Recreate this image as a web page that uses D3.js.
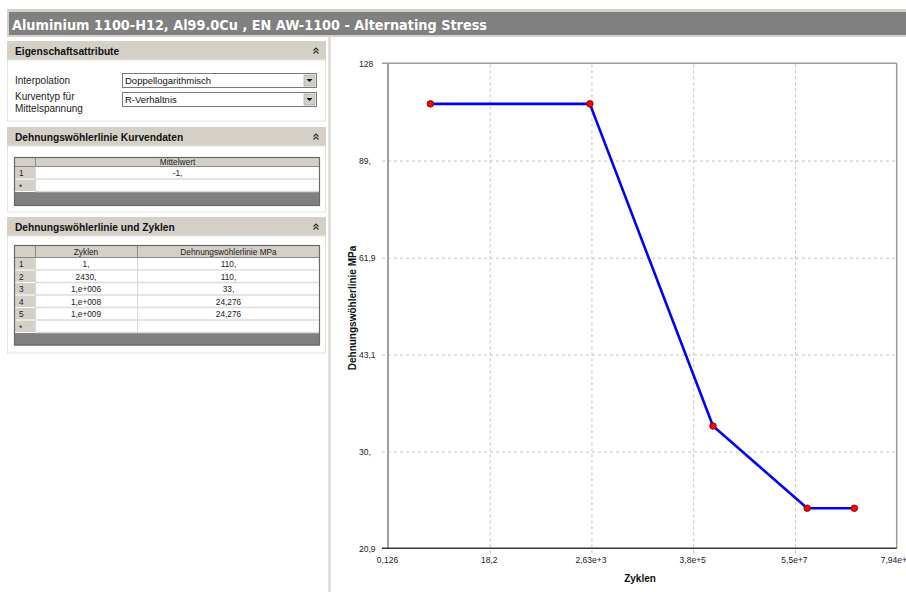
<!DOCTYPE html>
<html>
<head>
<meta charset="utf-8">
<script src="https://cdn.jsdelivr.net/npm/d3@7"></script>
<style>
  html, body { margin: 0; padding: 0; background: #ffffff; }
  svg { display: block; }
  text { font-family: "Liberation Sans", Arial, sans-serif; }
</style>
</head>
<body>
<svg id="view" width="906" height="592"></svg>
<script>
// ---- data ----
const titleText = "Aluminium 1100-H12, Al99.0Cu , EN AW-1100 - Alternating Stress";

const cycles = [1, 2430, 1e6, 1e8, 1e9];
const stress = [110, 110, 33, 24.276, 24.276];
const cycleLabels = ["1,", "2430,", "1,e+006", "1,e+008", "1,e+009"];
const stressLabels = ["110,", "110,", "33,", "24,276", "24,276"];

const meanValues = ["-1,"];

const xTicks = [0.126, 18.2, 2630, 3.8e5, 5.5e7, 7.94e9];
const xTickLabels = ["0,126", "18,2", "2,63e+3", "3,8e+5", "5,5e+7", "7,94e+9"];
const yTicks = [20.9, 30, 43.1, 61.9, 89, 128];
const yTickLabels = ["20,9", "30,", "43,1", "61,9", "89,", "128"];

const svg = d3.select("#view");
const BEIGE = "#d4d0c8";

// ---- title bar ----
svg.append("rect").attr("x", 7).attr("y", 9).attr("width", 899).attr("height", 28).attr("fill", BEIGE);
svg.append("rect").attr("x", 9).attr("y", 12).attr("width", 897).attr("height", 23).attr("fill", "#808080");
svg.append("text").attr("x", 12).attr("y", 29.5)
  .attr("fill", "#ffffff").attr("font-weight", "bold").attr("font-size", 13.5)
  .style("font-family", "'DejaVu Sans', Verdana, sans-serif")
  .attr("textLength", 475).attr("lengthAdjust", "spacingAndGlyphs")
  .text(titleText);

// ---- panel separator ----
svg.append("rect").attr("x", 328).attr("y", 37).attr("width", 3).attr("height", 555).attr("fill", "#e2dfd8");

// ---- left property panel ----
const left = svg.append("g");

function sectionHeader(y, label) {
  left.append("rect").attr("x", 7).attr("y", y).attr("width", 319).attr("height", 19).attr("fill", BEIGE);
  left.append("text").attr("x", 15).attr("y", y + 13.5).attr("font-size", 10.2).attr("font-weight", "bold")
    .attr("fill", "#111").text(label);
  const cx = 316, cy = y + 10;
  left.append("path")
    .attr("d", `M${cx - 2.5},${cy - 0.5} l2.5,-2.5 l2.5,2.5 M${cx - 2.5},${cy + 2.5} l2.5,-2.5 l2.5,2.5`)
    .attr("fill", "none").attr("stroke", "#333").attr("stroke-width", 1.2);
}
function sectionBody(y, h) {
  left.append("rect").attr("x", 7.5).attr("y", y).attr("width", 318).attr("height", h)
    .attr("fill", "#ffffff").attr("stroke", "#e6e3dc").attr("stroke-width", 1);
}

// Eigenschaftsattribute
sectionHeader(41, "Eigenschaftsattribute");
sectionBody(60, 61);

function dropdown(y, value) {
  const x0 = 122, w = 194, h = 14;
  left.append("rect").attr("x", x0 + 0.5).attr("y", y + 0.5).attr("width", w).attr("height", h)
    .attr("fill", "#ffffff").attr("stroke", "#7a7a7a");
  left.append("rect").attr("x", x0 + w - 12).attr("y", y + 2).attr("width", 11).attr("height", h - 3)
    .attr("fill", BEIGE).attr("stroke", "#9a9a9a").attr("stroke-width", 0.6);
  const ax = x0 + w - 6.5, ay = y + 6;
  left.append("path").attr("d", `M${ax - 3},${ay} L${ax + 3},${ay} L${ax},${ay + 3} Z`).attr("fill", "#000");
  left.append("text").attr("x", x0 + 3).attr("y", y + 11).attr("font-size", 9.5).attr("fill", "#111").text(value);
}
left.append("text").attr("x", 15).attr("y", 84).attr("font-size", 10).attr("fill", "#222").text("Interpolation");
left.append("text").attr("x", 15).attr("y", 100).attr("font-size", 10).attr("fill", "#222").text("Kurventyp für");
left.append("text").attr("x", 15).attr("y", 112).attr("font-size", 10).attr("fill", "#222").text("Mittelspannung");
dropdown(73, "Doppellogarithmisch");
dropdown(92, "R-Verhältnis");

// generic grid table
function drawTable(top, colEdges, headers, rows, rowH, headH, footH) {
  const x0 = colEdges[0], x1 = colEdges[colEdges.length - 1];
  const nRows = rows.length + 1; // plus the "*" new-row line
  const bodyTop = top + headH;
  const footTop = bodyTop + nRows * rowH;
  const g = left.append("g");
  // header row
  g.append("rect").attr("x", x0).attr("y", top).attr("width", x1 - x0).attr("height", headH).attr("fill", BEIGE);
  // body rows
  g.append("rect").attr("x", x0).attr("y", bodyTop).attr("width", x1 - x0).attr("height", nRows * rowH).attr("fill", "#fff");
  // row-number column
  g.append("rect").attr("x", x0).attr("y", bodyTop).attr("width", colEdges[1] - x0).attr("height", nRows * rowH).attr("fill", BEIGE);
  // footer
  g.append("rect").attr("x", x0).attr("y", footTop).attr("width", x1 - x0).attr("height", footH).attr("fill", "#808080");
  // row separators
  for (let i = 1; i <= nRows; i++) {
    const y = bodyTop + i * rowH;
    g.append("line").attr("x1", colEdges[1]).attr("x2", x1).attr("y1", y - 0.5).attr("y2", y - 0.5)
      .attr("stroke", "#dcdcdc").attr("stroke-width", 1.5);
    g.append("line").attr("x1", x0).attr("x2", colEdges[1]).attr("y1", y - 0.5).attr("y2", y - 0.5)
      .attr("stroke", "#ffffff").attr("stroke-width", 1);
  }
  // column separators
  colEdges.slice(1, -1).forEach(cx => {
    g.append("line").attr("x1", cx + 0.5).attr("x2", cx + 0.5).attr("y1", top).attr("y2", bodyTop)
      .attr("stroke", "#8a8a8a");
    g.append("line").attr("x1", cx + 0.5).attr("x2", cx + 0.5).attr("y1", bodyTop).attr("y2", footTop)
      .attr("stroke", "#d8d8d8");
  });
  g.append("line").attr("x1", x0).attr("x2", x1).attr("y1", bodyTop - 0.5).attr("y2", bodyTop - 0.5).attr("stroke", "#8a8a8a");
  // outer border
  g.append("rect").attr("x", x0 + 0.5).attr("y", top + 0.5).attr("width", x1 - x0 - 1).attr("height", footTop + footH - top - 1)
    .attr("fill", "none").attr("stroke", "#6a6a6a").attr("stroke-width", 1.2);
  // header texts
  headers.forEach((h, i) => {
    g.append("text").attr("x", (colEdges[i + 1] + colEdges[i + 2]) / 2).attr("y", top + headH / 2 + 3)
      .attr("text-anchor", "middle").attr("font-size", 8.3).attr("fill", "#222").text(h);
  });
  // body texts
  rows.forEach((r, ri) => {
    const cy = bodyTop + ri * rowH + rowH / 2 + 3;
    g.append("text").attr("x", x0 + 5).attr("y", cy).attr("font-size", 8.3).attr("fill", "#222").text(ri + 1);
    r.forEach((v, ci) => {
      g.append("text").attr("x", (colEdges[ci + 1] + colEdges[ci + 2]) / 2).attr("y", cy)
        .attr("text-anchor", "middle").attr("font-size", 8.3).attr("fill", "#222").text(v);
    });
  });
  g.append("text").attr("x", x0 + 5).attr("y", bodyTop + rows.length * rowH + rowH / 2 + 4)
    .attr("font-size", 8.3).attr("fill", "#222").text("*");
}

// Dehnungswöhlerlinie Kurvendaten
sectionHeader(127, "Dehnungswöhlerlinie Kurvendaten");
sectionBody(146, 66);
drawTable(157, [14, 35, 320], ["Mittelwert"], meanValues.map(v => [v]), 12.5, 10, 14);

// Dehnungswöhlerlinie und Zyklen
sectionHeader(217, "Dehnungswöhlerlinie und Zyklen");
sectionBody(236, 117);
drawTable(245, [14, 35, 137, 320], ["Zyklen", "Dehnungswöhlerlinie MPa"],
  cycles.map((c, i) => [cycleLabels[i], stressLabels[i]]), 12.5, 13, 12.5);

// ---- S-N chart ----
const plot = { left: 388, right: 896.7, top: 63.3, bottom: 548.3 };
const x = d3.scaleLog().domain([xTicks[0], xTicks[xTicks.length - 1]]).range([plot.left, plot.right]);
const y = d3.scaleLog().domain([yTicks[0], yTicks[yTicks.length - 1]]).range([plot.bottom, plot.top]);

const chart = svg.append("g");

// dashed grid
const gridX = d3.axisBottom(x).tickValues(xTicks.slice(1, -1)).tickSize(-(plot.bottom - plot.top) - 5).tickFormat("");
chart.append("g").attr("transform", `translate(0,${plot.bottom + 5})`).call(gridX)
  .call(g => g.select(".domain").remove())
  .call(g => g.selectAll("line").attr("stroke", "#c4c4c4").attr("stroke-dasharray", "3,3"));
const gridY = d3.axisLeft(y).tickValues(yTicks.slice(1, -1)).tickSize(-(plot.right - plot.left) - 6).tickFormat("");
chart.append("g").attr("transform", `translate(${plot.left - 6},0)`).call(gridY)
  .call(g => g.select(".domain").remove())
  .call(g => g.selectAll("line").attr("stroke", "#c4c4c4").attr("stroke-dasharray", "3,3"));

// frame
chart.append("line").attr("x1", plot.left - 6).attr("x2", plot.right).attr("y1", plot.top).attr("y2", plot.top)
  .attr("stroke", "#9a9a9a").attr("stroke-width", 1.5);
chart.append("line").attr("x1", plot.right).attr("x2", plot.right).attr("y1", plot.top).attr("y2", plot.bottom)
  .attr("stroke", "#9a9a9a").attr("stroke-width", 1.5);
chart.append("line").attr("x1", plot.left).attr("x2", plot.left).attr("y1", plot.top).attr("y2", plot.bottom)
  .attr("stroke", "#a0a0a0").attr("stroke-width", 2);
chart.append("line").attr("x1", plot.left - 6).attr("x2", plot.right).attr("y1", plot.bottom).attr("y2", plot.bottom)
  .attr("stroke", "#3a3a3a").attr("stroke-width", 1.5);

// tick labels
const yAxis = d3.axisLeft(y).tickValues(yTicks).tickSize(0).tickFormat((d, i) => yTickLabels[i]);
chart.append("g").attr("transform", `translate(359,0)`).call(yAxis)
  .call(g => g.select(".domain").remove())
  .call(g => g.selectAll("text").attr("text-anchor", "start").attr("x", 0)
    .attr("font-size", 8.5).style("font-family", "'Liberation Sans', Arial, sans-serif").attr("fill", "#222"));
const xAxis = d3.axisBottom(x).tickValues(xTicks).tickSize(0).tickFormat((d, i) => xTickLabels[i]);
chart.append("g").attr("transform", `translate(-1,${plot.bottom + 6})`).call(xAxis)
  .call(g => g.select(".domain").remove())
  .call(g => g.selectAll("text").attr("font-size", 8.5).style("font-family", "'Liberation Sans', Arial, sans-serif").attr("fill", "#222"));

// axis titles
chart.append("text").attr("x", 640).attr("y", 582).attr("text-anchor", "middle")
  .attr("font-size", 10).attr("font-weight", "bold").attr("fill", "#111").text("Zyklen");
chart.append("text").attr("transform", `translate(355.5,308) rotate(-90)`).attr("text-anchor", "middle")
  .attr("font-size", 10).attr("font-weight", "bold").attr("fill", "#111").text("Dehnungswöhlerlinie MPa");

// curve
const pts = cycles.map((c, i) => [c, stress[i]]);
chart.append("path").datum(pts)
  .attr("d", d3.line().x(d => x(d[0])).y(d => y(d[1])))
  .attr("fill", "none").attr("stroke", "#0000ff").attr("stroke-width", 2.6).attr("stroke-linejoin", "round");
chart.selectAll("circle.pt").data(pts).join("circle").attr("class", "pt")
  .attr("cx", d => x(d[0])).attr("cy", d => y(d[1])).attr("r", 3.3)
  .attr("fill", "#ff0000").attr("stroke", "#7a0000").attr("stroke-width", 0.8);
</script>
</body>
</html>
